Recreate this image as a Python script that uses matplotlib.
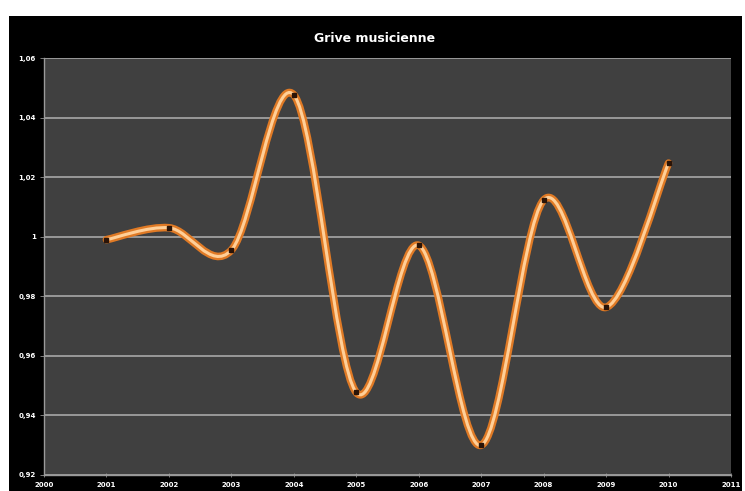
import numpy as np
import matplotlib
matplotlib.use("Agg")
import matplotlib.pyplot as plt
from matplotlib.path import Path
from matplotlib.patches import PathPatch

years = [2001, 2002, 2003, 2004, 2005, 2006, 2007, 2008, 2009, 2010]
values = [0.999, 1.003, 0.9955, 1.0476, 0.9477, 0.9971, 0.930, 1.0123, 0.9763, 1.0247]
x_ticks = list(range(2000, 2012))
y_ticks = [0.92, 0.94, 0.96, 0.98, 1.0, 1.02, 1.04, 1.06]
y_labels = ["0,92", "0,94", "0,96", "0,98", "1", "1,02", "1,04", "1,06"]
title = "Grive musicienne"

W, H = 745, 491
fig = plt.figure(figsize=(W / 100, H / 100), dpi=100)
fig.patch.set_facecolor("white")
# black chart area
bg = fig.add_axes([9 / W, 0, (742 - 9) / W, (491 - 16) / H], zorder=0)
bg.set_facecolor("black")
bg.set_xticks([])
bg.set_yticks([])
for s in bg.spines.values():
    s.set_visible(False)

ax = fig.add_axes([44 / W, (H - 475) / H, (731 - 44) / W, (475 - 58) / H], zorder=1)
ax.set_facecolor("#404040")
ax.set_xlim(2000, 2011)
ax.set_ylim(0.92, 1.06)
ax.set_yticks(y_ticks)
ax.set_yticklabels(y_labels)
ax.set_xticks(x_ticks)
ax.set_xticklabels([str(t) for t in x_ticks])
ax.tick_params(colors="white", labelsize=5, length=3, width=0.6)
ax.tick_params(axis="x", direction="inout", color="#909090")
ax.tick_params(axis="y", direction="out", color="#909090", pad=3)
for lab in ax.get_xticklabels() + ax.get_yticklabels():
    lab.set_fontweight("bold")
for s in ["top", "right"]:
    ax.spines[s].set_visible(False)
for s in ["left", "bottom"]:
    ax.spines[s].set_color("#9a9a9a")
    ax.spines[s].set_linewidth(1.0)
ax.grid(axis="y", color="#a8a8a8", linewidth=1.2)
ax.set_axisbelow(True)

fig.text(375 / W, 1 - 39 / H, title, color="white", fontsize=9,
         fontweight="bold", ha="center", va="center", zorder=5)

# smooth curve (Catmull-Rom style Bezier, Excel-like smoothing)
xs = np.array(years, dtype=float)
ys = np.array(values, dtype=float)
n = len(xs)
verts = [(xs[0], ys[0])]
codes = [Path.MOVETO]
for i in range(n - 1):
    p0 = np.array([xs[max(i - 1, 0)], ys[max(i - 1, 0)]])
    p1 = np.array([xs[i], ys[i]])
    p2 = np.array([xs[i + 1], ys[i + 1]])
    p3 = np.array([xs[min(i + 2, n - 1)], ys[min(i + 2, n - 1)]])
    c1 = p1 + (p2 - p0) / 6.0
    c2 = p2 - (p3 - p1) / 6.0
    verts += [tuple(c1), tuple(c2), tuple(p2)]
    codes += [Path.CURVE4] * 3
path = Path(verts, codes)
ax.add_patch(PathPatch(path, facecolor="none", edgecolor="#e07a25", lw=5.5,
                       capstyle="round", joinstyle="round", zorder=3))
ax.add_patch(PathPatch(path, facecolor="none", edgecolor="#ffcf98", lw=2.2,
                       capstyle="round", joinstyle="round", zorder=4))
ax.plot(years, values, linestyle="none", marker="s", markersize=3,
        color="#2a1408", zorder=5)

fig.savefig("out.png", dpi=100, facecolor=fig.get_facecolor())
